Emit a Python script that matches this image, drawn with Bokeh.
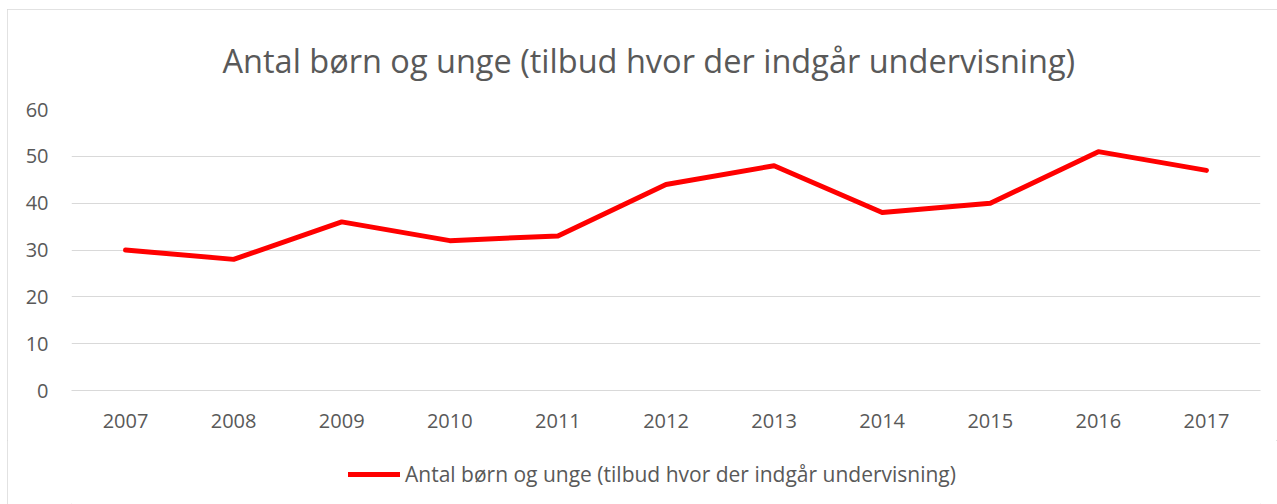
from bokeh.plotting import figure
from bokeh.models import Legend, LegendItem, FactorRange, Range1d, FixedTicker
from bokeh.layouts import column
from bokeh.embed import file_html
from bokeh.resources import INLINE

years = ["2007", "2008", "2009", "2010", "2011", "2012", "2013", "2014", "2015", "2016", "2017"]
values = [30, 28, 36, 32, 33, 44, 48, 38, 40, 51, 47]
series_name = "Antal børn og unge (tilbud hvor der indgår undervisning)"
title_text = "Antal børn og unge (tilbud hvor der indgår undervisning)"
y_ticks = [0, 10, 20, 30, 40, 50, 60]

FONT = "Open Sans"
GREY = "#595959"
GRID = "#d9d9d9"
RED = "#ff0000"

p = figure(frame_width=1189, frame_height=281, output_backend="svg", toolbar_location=None,
           x_range=FactorRange(*years, range_padding=0), y_range=Range1d(0, 60),
           min_border_left=64, min_border_right=17, min_border_top=100, min_border_bottom=50)
p.outline_line_color = None
p.background_fill_color = "white"
p.border_fill_color = "white"

p.title.text = title_text
p.title.text_font = FONT
p.title.text_font_size = "32.5px"
p.title.text_font_style = "normal"
p.title.text_color = GREY
p.title.align = "left"
p.title.offset = 151
p.title.standoff = 53

r = p.line(years, values, line_color=RED, line_width=5, line_cap="round", line_join="round")

p.yaxis.ticker = FixedTicker(ticks=y_ticks)
p.yaxis.axis_line_color = None
p.yaxis.major_tick_line_color = None
p.yaxis.minor_tick_line_color = None
p.yaxis.major_label_standoff = 17
p.yaxis.major_label_text_font = FONT
p.yaxis.major_label_text_font_size = "20px"
p.yaxis.major_label_text_color = GREY

p.xaxis.axis_line_color = GRID
p.xaxis.major_tick_line_color = None
p.xaxis.minor_tick_line_color = None
p.xaxis.major_label_standoff = 17
p.xaxis.major_label_text_font = FONT
p.xaxis.major_label_text_font_size = "20px"
p.xaxis.major_label_text_color = GREY

p.xgrid.grid_line_color = None
p.ygrid.grid_line_color = GRID
p.ygrid.grid_line_width = 1

# legend strip below the chart
q = figure(width=1270, height=64, output_backend="svg", toolbar_location=None,
           x_range=FactorRange(*years, range_padding=0), y_range=Range1d(1000, 1001),
           min_border=0)
q.axis.visible = False
q.grid.grid_line_color = None
q.outline_line_color = None
q.background_fill_color = "white"
q.border_fill_color = "white"
r2 = q.line(years, values, line_color=RED, line_width=5, line_cap="round", line_join="round")

legend = Legend(items=[LegendItem(label=series_name, renderers=[r2])], location=(277, 16),
                orientation="horizontal", border_line_color=None, background_fill_alpha=0,
                label_text_font=FONT, label_text_font_size="21px", label_text_color=GREY,
                glyph_width=52, glyph_height=20, label_standoff=5, padding=0, margin=0)
q.add_layout(legend, "center")

layout = column(p, q, spacing=0)
layout.margin = (9, 0, 0, 7)
layout.styles = {"outline": f"1px solid {GRID}", "outline-offset": "-1px"}

open("out.html", "w").write(file_html(layout, INLINE))
